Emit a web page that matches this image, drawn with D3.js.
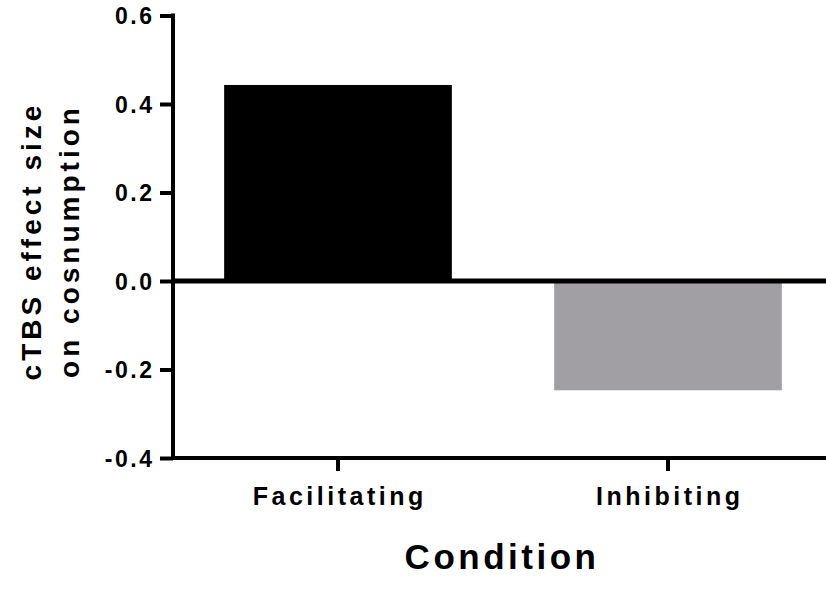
<!DOCTYPE html>
<html>
<head>
<meta charset="utf-8">
<script src="https://cdn.jsdelivr.net/npm/d3@7"></script>
<style>
  html, body { margin: 0; padding: 0; background: #fff; }
  text { font-family: "Liberation Sans", Arial, sans-serif; font-weight: bold; fill: #000; }
</style>
</head>
<body>
<svg id="chart" width="826" height="594"></svg>
<script>
const categories = ["Facilitating", "Inhibiting"];
const values = [0.443, -0.247];
const barColors = ["#000000", "#a19fa4"];
const yTicks = [0.6, 0.4, 0.2, 0.0, -0.2, -0.4];
const yTickLabels = ["0.6", "0.4", "0.2", "0.0", "-0.2", "-0.4"];
const yTitle = ["cTBS effect size", "on cosnumption"];
const xTitle = "Condition";

const svg = d3.select("#chart");
const mLeft = 173, mRight = 833, mTop = 15.5, mBottom = 458;

const y = d3.scaleLinear().domain([-0.4, 0.6]).range([mBottom, mTop]);
const x = d3.scaleBand().domain(categories).range([mLeft, mRight]).paddingInner(0.31).paddingOuter(0.155);

// bars
svg.selectAll("rect.bar").data(values).join("rect")
  .attr("class", "bar")
  .attr("x", (d, i) => x(categories[i]))
  .attr("width", x.bandwidth())
  .attr("y", d => y(Math.max(0, d)))
  .attr("height", d => Math.abs(y(d) - y(0)))
  .attr("fill", (d, i) => barColors[i]);

// y axis
const yAxis = d3.axisLeft(y).tickValues(yTicks).tickFormat((d, i) => yTickLabels[i]).tickSize(13).tickPadding(8);
const gy = svg.append("g").attr("transform", `translate(${mLeft},0)`).call(yAxis);
gy.select(".domain").remove();
gy.selectAll(".tick line").attr("stroke", "#000").attr("stroke-width", 4);
gy.selectAll(".tick text").style("font-size", "23px").style("letter-spacing", "2.5px")
  .attr("dx", "2.5px").attr("dy", "0.36em");
svg.append("line").attr("x1", mLeft).attr("x2", mLeft).attr("y1", mTop - 2).attr("y2", mBottom + 2)
  .attr("stroke", "#000").attr("stroke-width", 4);

// x axis at bottom
const xAxis = d3.axisBottom(x).tickSize(13).tickPadding(16);
const gx = svg.append("g").attr("transform", `translate(0,${mBottom})`).call(xAxis);
gx.select(".domain").remove();
gx.selectAll(".tick line").attr("stroke", "#000").attr("stroke-width", 4);
gx.selectAll(".tick text").style("font-size", "25px").style("letter-spacing", "3.5px")
  .attr("dx", "1.75px");
svg.append("line").attr("x1", mLeft - 2).attr("x2", 826).attr("y1", mBottom).attr("y2", mBottom)
  .attr("stroke", "#000").attr("stroke-width", 4);

// zero line
svg.append("line").attr("x1", mLeft).attr("x2", 826).attr("y1", y(0)).attr("y2", y(0))
  .attr("stroke", "#000").attr("stroke-width", 5);

// y title
const yt = svg.append("text").attr("transform", "translate(41,243) rotate(-90)")
  .attr("text-anchor", "middle").style("font-size", "28px").style("letter-spacing", "4px");
yt.append("tspan").attr("x", 2).attr("y", 0).text(yTitle[0]);
yt.append("tspan").attr("x", 2).attr("y", 38).text(yTitle[1]);

// x title
svg.append("text").attr("x", 502).attr("y", 569).attr("text-anchor", "middle")
  .style("font-size", "35px").style("letter-spacing", "3.5px").text(xTitle);
</script>
</body>
</html>
